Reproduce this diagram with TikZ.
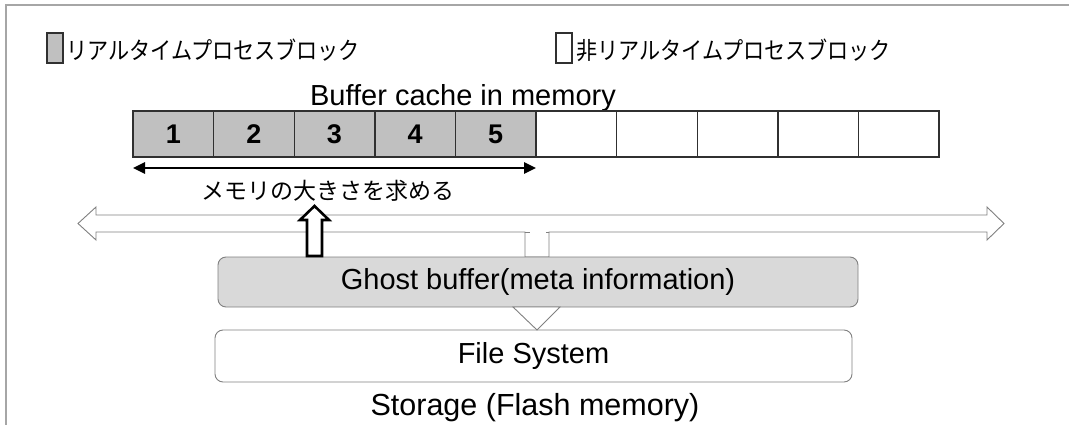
\documentclass[tikz,border=0pt]{standalone}
\usepackage{fontspec}
\setmainfont{Liberation Sans}
\newfontfamily\jp{Noto Sans CJK JP}
\newfontfamily\jpc{Noto Sans CJK JP}[FakeStretch=0.88]
\usetikzlibrary{arrows.meta}
\definecolor{rtgray}{HTML}{C0C0C0}
\definecolor{ghostgray}{HTML}{D9D9D9}
\definecolor{linegray}{HTML}{808080}
\definecolor{celledge}{HTML}{303030}
\begin{document}
\begin{tikzpicture}[x=1pt,y=-1pt,
  cell/.style={draw=celledge, line width=1.4pt, minimum width=80.6pt, minimum height=46pt, inner sep=0pt, outer sep=0pt, font=\fontsize{27}{29}\selectfont\bfseries},
  rtcell/.style={cell, fill=rtgray},
  nrtcell/.style={cell, fill=white},
  legbox/.style={draw=celledge, line width=1.4pt, minimum width=16pt, minimum height=30pt, inner sep=0pt},
  legtext/.style={anchor=west, inner sep=0pt, font=\jpc\fontsize{24}{26}\selectfont},
  bigtext/.style={inner sep=0pt, font=\fontsize{29}{31}\selectfont},
  layerbox/.style={draw=linegray, line width=0.9pt, rounded corners=8pt, minimum width=640pt, minimum height=50pt, inner sep=0pt, font=\fontsize{29}{31}\selectfont}
]
\useasboundingbox (0,0) rectangle (1069,425);
% frame
\draw[linegray!70, line width=1.2pt] (6,425) -- (6,5) -- (1069,5);

% legend
\node[legbox, fill=rtgray] (lg1) at (55,48) {};
\node[legtext] (lt1) at (66,50) {リアルタイムプロセスブロック};
\node[legbox, fill=white] (lg2) at (564,48) {};
\node[legtext] (lt2) at (576,50) {非リアルタイムプロセスブロック};

% buffer cache
\node[bigtext, anchor=base] (bc) at (463,106) {Buffer cache in memory};
\node[rtcell] (c1) at (173.3,134) {1};
\node[rtcell] (c2) at (253.9,134) {2};
\node[rtcell] (c3) at (334.5,134) {3};
\node[rtcell] (c4) at (415.1,134) {4};
\node[rtcell] (c5) at (495.7,134) {5};
\node[nrtcell] (c6) at (576.3,134) {};
\node[nrtcell] (c7) at (656.9,134) {};
\node[nrtcell] (c8) at (737.5,134) {};
\node[nrtcell] (c9) at (818.1,134) {};
\node[nrtcell] (c10) at (898.7,134) {};

\coordinate (ml) at (c1.south west |- 0,168);
\coordinate (mr) at (c5.south east |- 0,168);
\draw[line width=2.6pt, {Triangle[length=12pt,width=11pt]}-{Triangle[length=12pt,width=11pt]}] (ml) -- (mr);
\node[inner sep=0pt, font=\jp\fontsize{23}{25}\selectfont] (msz) at (328,191) {メモリの大きさを求める};

% wide hollow double arrow with stem
\draw[linegray, line width=0.9pt, fill=white]
  (78,223.5) -- (96,207) -- (96,215) -- (987,215) -- (987,207) -- (1004,223.5)
  -- (987,240) -- (987,232) -- (549,232) -- (549,257) -- (525,257) -- (525,232)
  -- (96,232) -- (96,240) -- cycle;
\draw[linegray, line width=0.9pt] (525,232) -- (530,232) (546,232) -- (549,232);

% layers
\node[layerbox, fill=ghostgray] (gb) at (538,282) {Ghost buffer(meta information)};
\node[layerbox, fill=white, minimum width=637pt, minimum height=52pt] (fs) at (533.5,356) {File System};
\node[bigtext, font=\fontsize{30.5}{32}\selectfont] (st) at (535,408) {Storage (Flash memory)};

% down triangle between ghost buffer and file system
\draw[linegray, line width=0.9pt, fill=white] (513,307) -- (560,307) -- (537,330) -- cycle;

% thick hollow up arrow
\draw[black, line width=2.6pt, fill=white, line join=miter]
  (307,256) -- (307,220) -- (300,220) -- (314.5,206) -- (329,220) -- (322,220) -- (322,256) -- cycle;
\end{tikzpicture}
\end{document}
